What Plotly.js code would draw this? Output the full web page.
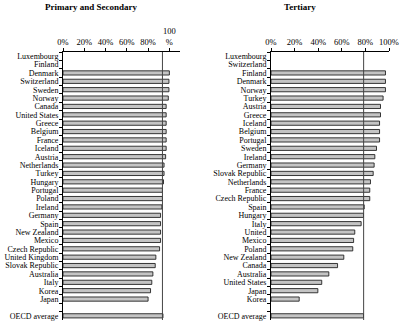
<!DOCTYPE html>
<html>
<head>
<meta charset="utf-8">
<script src="https://cdn.plot.ly/plotly-3.0.1.min.js"></script>
<style>
  html, body { margin: 0; padding: 0; background: #fff; }
  #chart { width: 400px; height: 325px; }
</style>
</head>
<body>
<div id="chart"></div>
<script>
// Share of the population covered, by level of education (per cent)
const primaryCountries = [
  'Luxembourg', 'Finland', 'Denmark', 'Switzerland', 'Sweden', 'Norway',
  'Canada', 'United States', 'Greece', 'Belgium', 'France', 'Iceland',
  'Austria', 'Netherlands', 'Turkey', 'Hungary', 'Portugal', 'Poland',
  'Ireland', 'Germany', 'Spain', 'New Zealand', 'Mexico', 'Czech Republic',
  'United Kingdom', 'Slovak Republic', 'Australia', 'Italy', 'Korea', 'Japan',
  ' ', 'OECD average'
];
const primaryValues = [
  null, null, 100, 99.6, 99.6, 99, 97, 97, 97, 97, 97, 97,
  96.5, 95, 95, 94.5, 93.5, 93.5, 93, 91.7, 91.7, 91.7, 91.7, 90.8,
  87.3, 86.7, 84.5, 83.5, 82.3, 80, null, 94
];
const primaryAverage = 93.5;

const tertiaryCountries = [
  'Luxembourg', 'Switzerland', 'Finland', 'Denmark', 'Norway', 'Turkey',
  'Austria', 'Greece', 'Iceland', 'Belgium', 'Portugal', 'Sweden',
  'Ireland', 'Germany', 'Slovak Republic', 'Netherlands', 'France',
  'Czech Republic', 'Spain', 'Hungary', 'Italy', 'United', 'Mexico', 'Poland',
  'New Zealand', 'Canada', 'Australia', 'United States', 'Japan', 'Korea',
  ' ', 'OECD average'
];
const tertiaryValues = [
  null, null, 97, 97, 97, 95, 92.8, 92.8, 92, 92, 92, 89.4,
  88, 87.4, 86.6, 84.3, 83.7, 83.7, 79, 78.4, 76.4, 71, 70, 69.3,
  61.7, 56.4, 49, 43, 39.7, 23.9, null, 78.4
];
const tertiaryAverage = 78.5;

const tickValues = [0, 20, 40, 60, 80, 100];
const primaryTickText = ['0%', '20%', '40%', '60%', '80%', '100<br>%'];
const tertiaryTickText = ['0%', '20%', '40%', '60%', '80%', '100%'];

const serif = 'Liberation Serif, Times New Roman, serif';
const barStyle = { color: '#c4c4c4', line: { color: '#222', width: 0.9 } };

const traces = [
  {
    type: 'bar', orientation: 'h',
    x: primaryValues, y: primaryCountries,
    xaxis: 'x', yaxis: 'y',
    marker: barStyle, hoverinfo: 'x+y'
  },
  {
    type: 'bar', orientation: 'h',
    x: tertiaryValues, y: tertiaryCountries,
    xaxis: 'x2', yaxis: 'y2',
    marker: barStyle, hoverinfo: 'x+y'
  }
];

function xAxis(domain, range, text, anchor) {
  return {
    domain: domain, range: range, anchor: anchor, side: 'top',
    tickmode: 'array', tickvals: tickValues, ticktext: text,
    ticks: 'outside', ticklen: 3, tickcolor: '#000', tickwidth: 1,
    showline: true, linecolor: '#000', linewidth: 1,
    showgrid: false, zeroline: false, fixedrange: true,
    tickfont: { family: serif, size: 8.5, color: '#000' }
  };
}
function yAxis(cats, anchor) {
  return {
    type: 'category', categoryorder: 'array', categoryarray: cats,
    range: [cats.length - 0.5, -0.5], anchor: anchor,
    tickmode: 'linear', tick0: 0, dtick: 1,
    ticks: 'outside', tickson: 'boundaries', ticklen: 3, tickcolor: '#000',
    ticklabelstandoff: 2,
    showline: true, linecolor: '#000', linewidth: 1,
    showgrid: false, zeroline: false, fixedrange: true,
    tickfont: { family: serif, size: 8, color: '#000' }
  };
}

const layout = {
  width: 400, height: 325,
  margin: { l: 0, r: 0, t: 52, b: 5 },
  paper_bgcolor: '#fff', plot_bgcolor: '#fff',
  showlegend: false, bargap: 0.5,
  xaxis: xAxis([0.1575, 0.45], [0, 110], primaryTickText, 'y'),
  yaxis: yAxis(primaryCountries, 'x'),
  xaxis2: xAxis([0.6775, 0.9725], [0, 100], tertiaryTickText, 'y2'),
  yaxis2: yAxis(tertiaryCountries, 'x2'),
  shapes: [
    { type: 'line', xref: 'x', yref: 'y domain', x0: primaryAverage, x1: primaryAverage,
      y0: 0, y1: 1, line: { color: '#444', width: 1 } },
    { type: 'line', xref: 'x2', yref: 'y2 domain', x0: tertiaryAverage, x1: tertiaryAverage,
      y0: 0, y1: 1, line: { color: '#444', width: 1 } }
  ],
  annotations: [
    { text: '<b>Primary and Secondary</b>', xref: 'paper', yref: 'paper',
      x: 0.2275, y: 1 + 45 / 268, xanchor: 'center', yanchor: 'middle', showarrow: false,
      font: { family: serif, size: 9, color: '#000' } },
    { text: '<b>Tertiary</b>', xref: 'paper', yref: 'paper',
      x: 0.75, y: 1 + 45 / 268, xanchor: 'center', yanchor: 'middle', showarrow: false,
      font: { family: serif, size: 9, color: '#000' } }
  ]
};

Plotly.newPlot('chart', traces, layout, { displayModeBar: false, staticPlot: true });
</script>
</body>
</html>
